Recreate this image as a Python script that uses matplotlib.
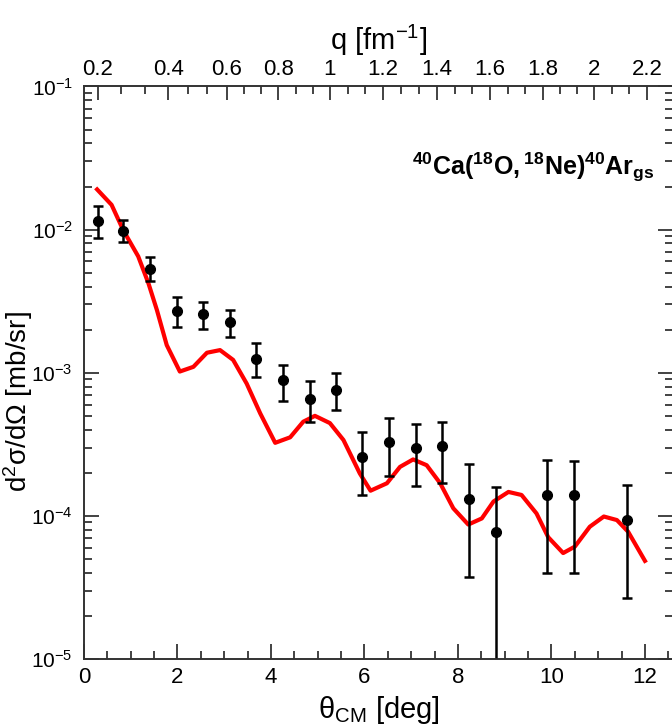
import numpy as np
import matplotlib
matplotlib.use('Agg')
import matplotlib.pyplot as plt
from matplotlib.ticker import LogLocator, MultipleLocator, NullFormatter

plt.rcParams['font.family'] = ['Liberation Sans', 'DejaVu Sans']
plt.rcParams['mathtext.fontset'] = 'custom'
plt.rcParams['mathtext.rm'] = 'Liberation Sans'
plt.rcParams['mathtext.it'] = 'Liberation Sans:italic'
plt.rcParams['mathtext.bf'] = 'Liberation Sans:bold'
plt.rcParams['axes.unicode_minus'] = False

# measured cross section (theta_cm, value, upper, lower end of error bar)
exp_theta = [0.31, 0.84, 1.41, 1.98, 2.55, 3.12, 3.69, 4.26, 4.83, 5.39,
             5.95, 6.52, 7.10, 7.65, 8.24, 8.81, 9.91, 10.48, 11.61]
exp_sigma = [1.15e-2, 9.8e-3, 5.3e-3, 2.70e-3, 2.58e-3, 2.25e-3, 1.25e-3, 8.85e-4, 6.6e-4, 7.6e-4,
             2.59e-4, 3.30e-4, 2.98e-4, 3.08e-4, 1.32e-4, 7.7e-5, 1.39e-4, 1.39e-4, 9.35e-5]
exp_upper = [1.46e-2, 1.16e-2, 6.4e-3, 3.4e-3, 3.13e-3, 2.74e-3, 1.61e-3, 1.14e-3, 8.75e-4, 1.0e-3,
             3.83e-4, 4.80e-4, 4.38e-4, 4.55e-4, 2.31e-4, 1.59e-4, 2.45e-4, 2.41e-4, 1.64e-4]
exp_lower = [8.8e-3, 8.2e-3, 4.4e-3, 2.10e-3, 2.02e-3, 1.77e-3, 9.4e-4, 6.3e-4, 4.5e-4, 5.5e-4,
             1.39e-4, 1.90e-4, 1.61e-4, 1.69e-4, 3.75e-5, 1e-7, 3.96e-5, 3.96e-5, 2.65e-5]

# calculation (red curve)
calc_theta = [0.28, 0.59, 0.84, 1.16, 1.38, 1.56, 1.77, 2.05, 2.34, 2.63, 2.91, 3.19, 3.48,
              3.77, 4.09, 4.41, 4.69, 4.94, 5.26, 5.55, 5.90, 6.13, 6.48, 6.76, 7.04, 7.33,
              7.62, 7.90, 8.22, 8.51, 8.76, 9.08, 9.36, 9.68, 9.93, 10.25, 10.50, 10.82,
              11.12, 11.40, 11.64, 12.0]
calc_sigma = [1.91e-2, 1.49e-2, 9.9e-3, 6.5e-3, 4.2e-3, 2.74e-3, 1.56e-3, 1.02e-3, 1.10e-3,
              1.38e-3, 1.44e-3, 1.23e-3, 8.4e-4, 5.2e-4, 3.24e-4, 3.54e-4, 4.55e-4, 5.0e-4,
              4.45e-4, 3.39e-4, 1.98e-4, 1.50e-4, 1.69e-4, 2.20e-4, 2.48e-4, 2.26e-4, 1.69e-4,
              1.13e-4, 8.7e-5, 9.6e-5, 1.26e-4, 1.47e-4, 1.40e-4, 1.04e-4, 7.1e-5, 5.5e-5,
              6.1e-5, 8.4e-5, 9.9e-5, 9.35e-5, 7.75e-5, 4.85e-5]

# top axis: momentum transfer labels and the angle where each one sits
q_ticks = [0.2, 0.4, 0.6, 0.8, 1.0, 1.2, 1.4, 1.6, 1.8, 2.0, 2.2]
q_labels = ['0.2', '0.4', '0.6', '0.8', '1', '1.2', '1.4', '1.6', '1.8', '2', '2.2']
q_theta = [0.30, 1.80, 3.06, 4.16, 5.26, 6.40, 7.55, 8.68, 9.82, 10.91, 12.04]

fig = plt.figure(figsize=(6.72, 7.25), dpi=100)
ax = fig.add_axes([0.125, 0.091, 0.8765, 0.7897])

theta = np.array(exp_theta)
sig = np.array(exp_sigma)
yerr = [sig - np.array(exp_lower), np.array(exp_upper) - sig]

ax.plot(calc_theta, calc_sigma, color='#ff0000', lw=3.0, zorder=2)
ax.errorbar(theta, sig, yerr=yerr, fmt='o', color='black', ms=7, elinewidth=1.8,
            capsize=3.5, capthick=1.8, zorder=3)

ax.set_yscale('log')
ax.set_xlim(0, 12.6)
ax.set_ylim(1e-5, 1e-1)

ax.xaxis.set_major_locator(MultipleLocator(2))
ax.xaxis.set_minor_locator(MultipleLocator(0.5))
ax.yaxis.set_major_locator(LogLocator(base=10, numticks=10))
ax.yaxis.set_minor_locator(LogLocator(base=10, subs=np.arange(2, 10), numticks=10))
ax.yaxis.set_minor_formatter(NullFormatter())

ax.tick_params(which='both', direction='in', top=False, right=True, width=1.2, colors='#222222')
ax.tick_params(which='major', length=11)
ax.tick_params(which='minor', length=5.5)
ax.tick_params(axis='x', labelsize=16, pad=6, labelcolor='black')
ax.tick_params(axis='y', labelsize=15, pad=8, labelcolor='black')

for s in ax.spines.values():
    s.set_linewidth(1.2)
    s.set_color('#333333')

ax.set_xlabel('θ$_{\\mathrm{CM}}$ [deg]', fontsize=21, labelpad=4)
ax.set_ylabel('d$^2$σ/dΩ [mb/sr]', fontsize=20)
ax.yaxis.set_label_coords(-0.083, 0.45)

ax2 = ax.twiny()
ax2.set_xlim(ax.get_xlim())
ax2.set_xticks(q_theta)
ax2.set_xticklabels(q_labels)
q_minor = []
for a, b in zip(q_ticks[:-1], q_ticks[1:]):
    q_minor += [a + (b - a) / 3, a + 2 * (b - a) / 3]
ax2.set_xticks(np.interp(q_minor, q_ticks, q_theta), minor=True)
ax2.tick_params(which='both', direction='in', width=1.2, colors='#222222', labelcolor='black')
ax2.tick_params(which='major', length=10, labelsize=16, pad=5)
ax2.tick_params(which='minor', length=5.5)
ax2.set_xlabel('q [fm$^{-1}$]', fontsize=21, labelpad=6)
for s in ax2.spines.values():
    s.set_linewidth(1.2)
    s.set_color('#333333')

ax.text(0.969, 0.845, r'$\mathbf{^{40}Ca(^{18}O,^{18}Ne)^{40}Ar_{gs}}$', transform=ax.transAxes,
        ha='right', va='baseline', fontsize=18)

fig.savefig('out.png', dpi=100)
